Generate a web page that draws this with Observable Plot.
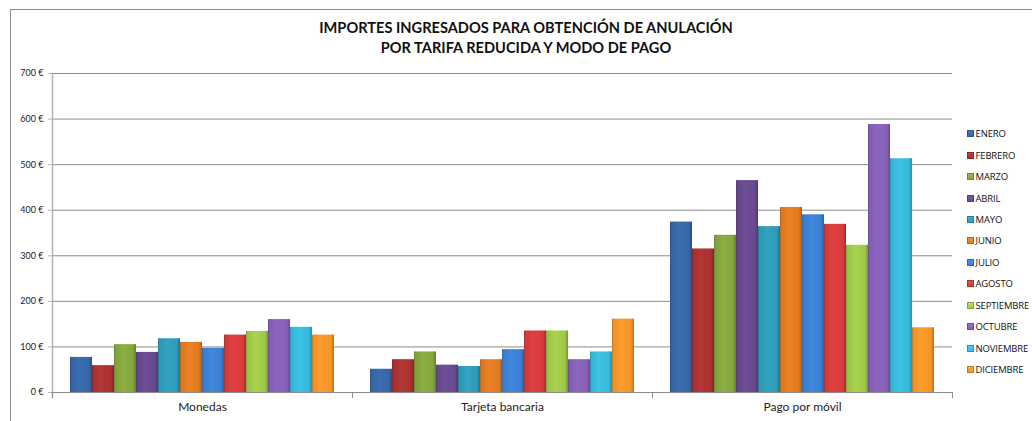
<!DOCTYPE html>
<html>
<head>
<meta charset="utf-8">
<script src="https://cdn.jsdelivr.net/npm/d3@7"></script>
<script src="https://cdn.jsdelivr.net/npm/@observablehq/plot@0.6"></script>
<style>
  html, body { margin: 0; padding: 0; background: #fff; }
  #wrap { position: relative; width: 1032px; height: 421px; overflow: hidden; font-family: Lato, "Open Sans", sans-serif; }
  #border { position: absolute; left: 10px; top: 9px; width: 1200px; height: 600px; border: 1px solid #8c8c8c; box-sizing: border-box; }
  #title { position: absolute; left: 20px; width: 1012px; top: 18px; text-align: center; font-weight: bold; font-size: 14.6px; line-height: 20px; color: #111; }
  #chart { position: absolute; left: 0; top: 0; }
  #legend { position: absolute; left: 967px; top: 123px; font-family: "Open Sans", sans-serif; font-size: 9.5px; letter-spacing: -0.15px; color: #111; white-space: nowrap; }
  #legend .item { height: 21.45px; display: flex; align-items: center; }
  #legend .sw { width: 7px; height: 7px; margin-right: 1.5px; box-sizing: border-box; }
</style>
</head>
<body>
<div id="wrap">
  <div id="border"></div>
  <div id="title">IMPORTES INGRESADOS PARA OBTENCIÓN DE ANULACIÓN<br>POR TARIFA REDUCIDA Y MODO DE PAGO</div>
  <div id="chart"></div>
  <div id="legend"></div>
</div>
<script>
const categories = ["Monedas", "Tarjeta bancaria", "Pago por móvil"];
const months = ["ENERO","FEBRERO","MARZO","ABRIL","MAYO","JUNIO","JULIO","AGOSTO","SEPTIEMBRE","OCTUBRE","NOVIEMBRE","DICIEMBRE"];
const monedas = [77, 59, 105, 88, 118, 110, 97, 126, 134, 160, 143, 126];
const tarjeta = [51, 72, 89, 60, 57, 72, 94, 135, 135, 72, 89, 161];
const movil   = [374, 315, 345, 465, 364, 406, 390, 369, 323, 588, 513, 142];
const monthColors = ["#3867a8","#ab3232","#84a63e","#684a90","#2f9bb8","#e07b22","#3c80d2","#d43c3c","#a0c84a","#8660b6","#38b9da","#f5952a"];
const yTicks = [0, 100, 200, 300, 400, 500, 600, 700];

const series = [monedas, tarjeta, movil];
const data = [];
categories.forEach((c, ci) => {
  months.forEach((m, mi) => {
    data.push({cat: c, month: m, value: series[ci][mi], grad: `url(#grad${mi})`});
  });
});

const gray = "#8c8c8c";
const plot = Plot.plot({
  width: 1032,
  height: 421,
  marginTop: 73,
  marginBottom: 29,
  marginLeft: 52,
  marginRight: 80,
  style: {fontFamily: "Lato, 'Open Sans', sans-serif", background: "transparent"},
  fx: {domain: categories, padding: 0, label: null, axis: null},
  x: {domain: months, paddingInner: 0, paddingOuter: 0.72, axis: null},
  y: {domain: [0, 700], label: null},
  color: {type: "identity"},
  marks: [
    Plot.ruleY(yTicks.filter(d => d > 0), {stroke: gray, strokeWidth: 1}),
    Plot.barY(data, {fx: "cat", x: "month", y: "value", fill: "grad"}),
    Plot.ruleY([0], {stroke: gray, strokeWidth: 1}),
    Plot.frame({anchor: "left", stroke: "#b4b4b4", strokeWidth: 1.5, insetBottom: -5, facetAnchor: "left"}),
    Plot.frame({anchor: "left", stroke: gray, insetTop: 319, insetBottom: -5}),
    Plot.frame({anchor: "right", stroke: gray, insetTop: 319, insetBottom: -5, facetAnchor: "right"}),
    Plot.axisY({ticks: yTicks, tickSize: 4, tickPadding: 5, tickFormat: d => d + " €", fontSize: 9, stroke: "#b4b4b4", fill: "#222", label: null}),
    Plot.axisFx({anchor: "bottom", tickSize: 0, tickPadding: 10, fontSize: 12, fill: "#222", label: null})
  ]
});

// gradients for bevelled bars
const svg = d3.select(plot);
const defs = svg.insert("defs", ":first-child");
monthColors.forEach((c, i) => {
  const base = d3.color(c);
  const g = defs.append("linearGradient").attr("id", `grad${i}`).attr("x1", 0).attr("x2", 1).attr("y1", 0).attr("y2", 0);
  const stops = [[0, base.darker(0.7)], [0.07, base.darker(0.1)], [0.4, base.brighter(0.15)], [0.85, base], [0.96, base.darker(0.5)], [1, base.darker(0.9)]];
  stops.forEach(([o, col]) => g.append("stop").attr("offset", o).attr("stop-color", col.formatHex()));
});
document.getElementById("chart").appendChild(plot);

// legend
const legend = d3.select("#legend");
months.forEach((m, i) => {
  const base = d3.color(monthColors[i]);
  const it = legend.append("div").attr("class", "item");
  it.append("div").attr("class", "sw")
    .style("background", `linear-gradient(to bottom, ${base.brighter(0.4).formatHex()}, ${base.formatHex()})`)
    .style("border", `1px solid ${base.darker(0.6).formatHex()}`);
  it.append("span").text(m);
});
</script>
</body>
</html>
